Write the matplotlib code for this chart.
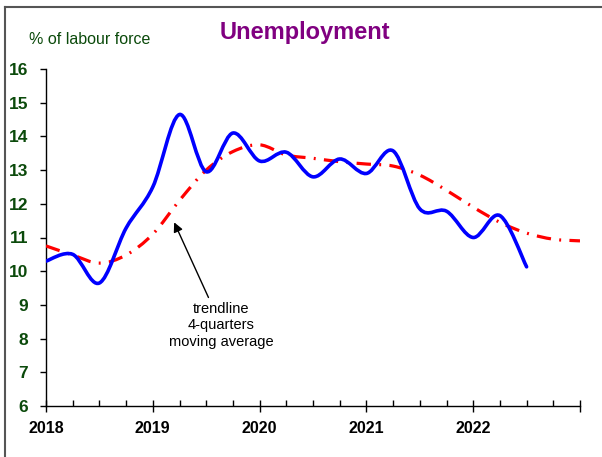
import numpy as np
import matplotlib
matplotlib.use("Agg")
import matplotlib.pyplot as plt
from matplotlib.path import Path
from matplotlib.patches import PathPatch
from matplotlib.lines import Line2D
from matplotlib.ticker import MultipleLocator

plt.rcParams['font.family'] = ['Liberation Sans', 'DejaVu Sans']

# quarterly observations, starting 2018 Q1
unemp_start = 2018.0
unemployment = [10.3, 10.5, 9.65, 11.28, 12.5, 14.65, 12.95, 14.1, 13.27,
                13.53, 12.8, 13.33, 12.9, 13.57, 11.85, 11.78, 11.0, 11.65, 10.13]
# 4-quarter moving average trend, incl. projection to 2023
trend = [10.75, 10.48, 10.24, 10.48, 11.1, 12.1, 13.0, 13.55, 13.75, 13.45,
         13.35, 13.25, 13.18, 13.12, 12.85, 12.4, 11.9, 11.45, 11.13, 10.95, 10.9]
year_labels = ['2018', '2019', '2020', '2021', '2022']

title_color = '#800080'
green = '#0b4a0b'


def smooth_path(x, y):
    # Excel-style smoothed line: bezier segments, catmull-rom control points
    pts = np.column_stack([x, y])
    verts = [pts[0]]
    codes = [Path.MOVETO]
    n = len(pts)
    for i in range(n - 1):
        p0 = pts[max(i - 1, 0)]
        p1 = pts[i]
        p2 = pts[i + 1]
        p3 = pts[min(i + 2, n - 1)]
        c1 = p1 + (p2 - p0) / 6.0
        c2 = p2 - (p3 - p1) / 6.0
        verts += [c1, c2, p2]
        codes += [Path.CURVE4] * 3
    return Path(verts, codes)


fig = plt.figure(figsize=(6.02, 4.57), dpi=100)
ax = fig.add_axes([46 / 602, 1 - 406 / 457, 534 / 602, 337 / 457])

x_u = unemp_start + 0.25 * np.arange(len(unemployment))
x_t = unemp_start + 0.25 * np.arange(len(trend))

ax.add_patch(PathPatch(smooth_path(x_t, trend), fill=False, edgecolor='#ff0000',
                       lw=2.3, ls=(0, (4.5, 2.6, 0.6, 2.6)), capstyle='butt',
                       transform=ax.transData, zorder=3))
ax.add_patch(PathPatch(smooth_path(x_u, unemployment), fill=False, edgecolor='#0000ff',
                       lw=2.6, capstyle='round', joinstyle='round',
                       transform=ax.transData, zorder=4))

ax.set_xlim(2018, 2023)
ax.set_ylim(6, 16)
ax.spines['top'].set_visible(False)
ax.spines['right'].set_visible(False)
for s in ('left', 'bottom'):
    ax.spines[s].set_linewidth(1.0)

ax.yaxis.set_major_locator(MultipleLocator(1))
ax.tick_params(axis='y', direction='out', length=4, width=1, pad=9,
               labelsize=12.5, labelcolor=green)
for lab in ax.get_yticklabels():
    lab.set_fontweight('bold')

ax.set_xticks(np.arange(2018, 2024))
ax.set_xticklabels(year_labels + [''])
ax.xaxis.set_minor_locator(MultipleLocator(0.25))
ax.tick_params(axis='x', which='major', direction='inout', length=8, width=1,
               pad=7, labelsize=11.5)
ax.tick_params(axis='x', which='minor', direction='in', length=4, width=1)
for lab in ax.get_xticklabels():
    lab.set_fontweight('bold')

ax.annotate('trendline\n4-quarters\nmoving average', xy=(2019.2, 11.45),
            xytext=(2019.64, 9.1), ha='center', va='top', fontsize=10.5,
            linespacing=1.25, color='#000000',
            arrowprops=dict(arrowstyle='-|>', color='black', lw=1.0,
                            mutation_scale=14, shrinkA=1, shrinkB=0))

fig.text(304.5 / 602, 1 - 32 / 457, 'Unemployment', ha='center', va='center',
         fontsize=17, fontweight='bold', color=title_color)
fig.text(90 / 602, 1 - 40 / 457, '% of labour force', ha='center', va='center',
         fontsize=11.5, color=green)

# chart-area border (top and left edges visible)
fig.add_artist(Line2D([5 / 602, 5 / 602], [0, 1 - 7 / 457], color='#555555', lw=1.5))
fig.add_artist(Line2D([5 / 602, 1], [1 - 7 / 457, 1 - 7 / 457], color='#555555', lw=1.5))

fig.savefig('out.png', dpi=100)
